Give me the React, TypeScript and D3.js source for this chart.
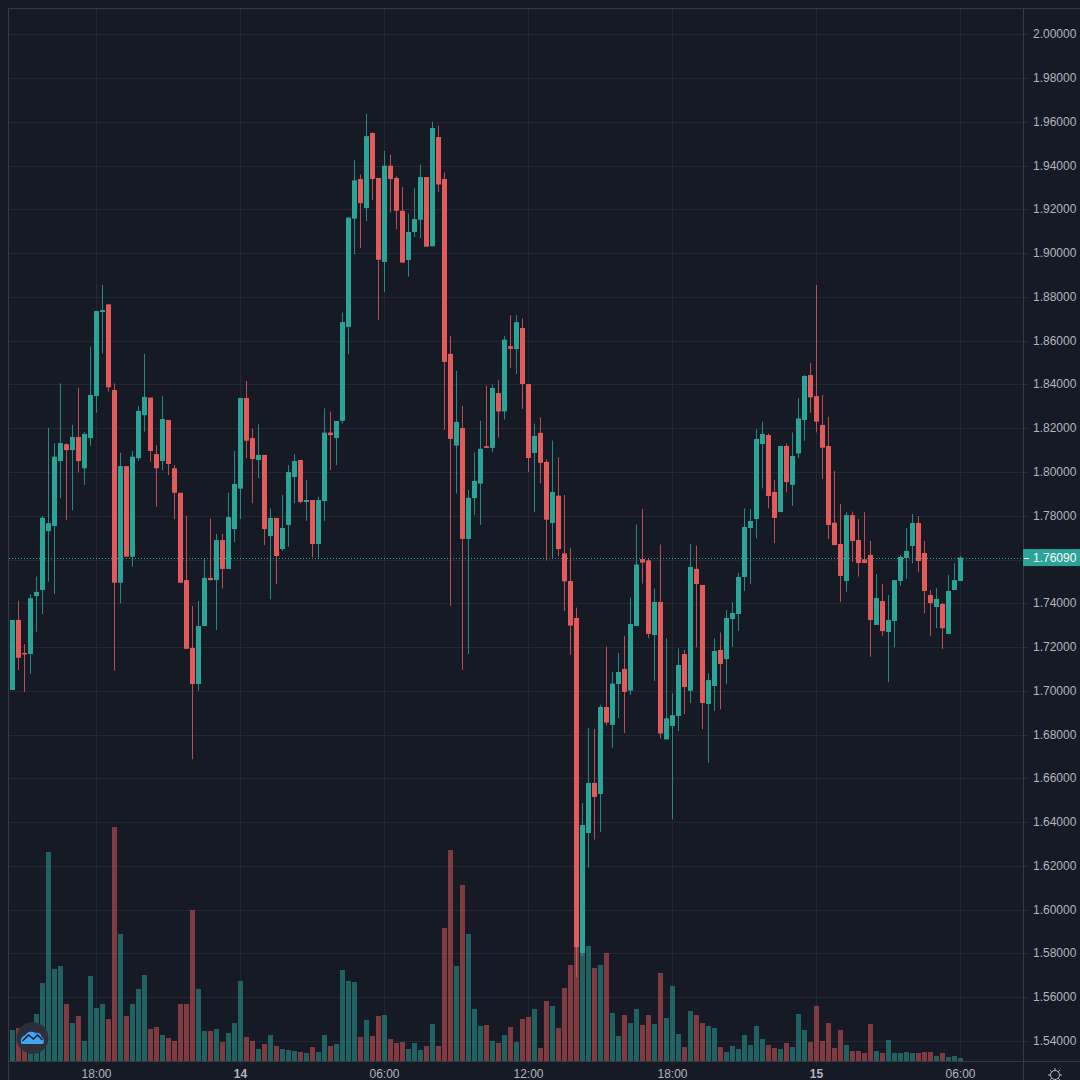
import React, { useRef, useEffect } from "react";
import * as d3 from "d3";

// 15 minute candles
const opens = [
  1.7004, 1.7324, 1.7173, 1.7168, 1.7433, 1.7461, 1.7730, 1.7753, 1.8050, 1.8127,
  1.8100, 1.8160, 1.8017, 1.8155, 1.8347, 1.8731, 1.8766, 1.8375, 1.7494, 1.8027,
  1.7613, 1.8063, 1.8260, 1.8340, 1.8082, 1.8050, 1.8238, 1.8017, 1.7905, 1.7506,
  1.7196, 1.7031, 1.7296, 1.7516, 1.7506, 1.7689, 1.7557, 1.7739, 1.7924, 1.8338,
  1.8155, 1.8055, 1.8078, 1.7707, 1.7790, 1.7648, 1.7758, 1.7977, 1.8055, 1.7863,
  1.7872, 1.7671, 1.7867, 1.8180, 1.8155, 1.8234, 1.8663, 1.9158, 1.9339, 1.9206,
  1.9550, 1.9344, 1.8960, 1.9400, 1.9344, 1.9194, 1.8969, 1.9097, 1.9153, 1.9348,
  1.9032, 1.9531, 1.9339, 1.8540, 1.8121, 1.8201, 1.7694, 1.7881, 1.7947, 1.8118,
  1.8110, 1.8361, 1.8277, 1.8575, 1.8562, 1.8658, 1.8402, 1.8087, 1.8179, 1.8046,
  1.7767, 1.7892, 1.7628, 1.7502, 1.7333, 1.5802, 1.6350, 1.6579, 1.6528, 1.6926,
  1.6844, 1.7031, 1.7100, 1.7001, 1.7296, 1.7602, 1.7596, 1.7255, 1.7406, 1.6778,
  1.6839, 1.6885, 1.7168, 1.7000, 1.7557, 1.7484, 1.6940, 1.7022, 1.7187, 1.7145,
  1.7328, 1.7351, 1.7520, 1.7744, 1.7785, 1.8128, 1.8169, 1.7909, 1.7817, 1.8119,
  1.7941, 1.8085, 1.8238, 1.8443, 1.8347, 1.8215, 1.8119, 1.7768, 1.7671, 1.7502,
  1.7803, 1.7689, 1.7601, 1.7621, 1.7301, 1.7410, 1.7269, 1.7319, 1.7502, 1.7607,
  1.7662, 1.7767, 1.7630, 1.7438, 1.7383, 1.7397, 1.7260, 1.7461, 1.7502,
];
const highs = [
  1.7324, 1.7412, 1.7214, 1.7442, 1.7522, 1.7800, 1.8202, 1.8132, 1.8405, 1.8131,
  1.8216, 1.8385, 1.8183, 1.8573, 1.8736, 1.8855, 1.8766, 1.8405, 1.8088, 1.8027,
  1.8096, 1.8302, 1.8539, 1.8340, 1.8123, 1.8347, 1.8238, 1.8032, 1.7905, 1.7799,
  1.7388, 1.7410, 1.7606, 1.7787, 1.7717, 1.7717, 1.7905, 1.8096, 1.8338, 1.8416,
  1.8198, 1.8218, 1.8078, 1.7834, 1.7790, 1.7895, 1.8032, 1.8082, 1.8055, 1.7963,
  1.7872, 1.7887, 1.8291, 1.8276, 1.8233, 1.8729, 1.9163, 1.9425, 1.9360, 1.9638,
  1.9550, 1.9344, 1.9467, 1.9450, 1.9352, 1.9302, 1.9181, 1.9298, 1.9405, 1.9348,
  1.9601, 1.9583, 1.9369, 1.8622, 1.8463, 1.8302, 1.7918, 1.8090, 1.8234, 1.8395,
  1.8400, 1.8419, 1.8622, 1.8717, 1.8717, 1.8702, 1.8402, 1.8221, 1.8250, 1.8058,
  1.8144, 1.8067, 1.7895, 1.7654, 1.7380, 1.6487, 1.6830, 1.6826, 1.6936, 1.7202,
  1.7086, 1.7173, 1.7250, 1.7426, 1.7760, 1.7832, 1.7607, 1.7467, 1.7669, 1.7240,
  1.6989, 1.7194, 1.7187, 1.7670, 1.7663, 1.7484, 1.7080, 1.7240, 1.7267, 1.7369,
  1.7405, 1.7540, 1.7834, 1.7831, 1.8196, 1.8230, 1.8177, 1.7963, 1.8119, 1.8131,
  1.8181, 1.8338, 1.8443, 1.8498, 1.8855, 1.8352, 1.8253, 1.8005, 1.7854, 1.7816,
  1.7819, 1.7785, 1.7816, 1.7685, 1.7534, 1.7488, 1.7438, 1.7506, 1.7621, 1.7743,
  1.7808, 1.7799, 1.7685, 1.7461, 1.7470, 1.7403, 1.7529, 1.7583, 1.7617,
];
const lows = [
  1.7004, 1.7095, 1.6995, 1.7077, 1.7270, 1.7351, 1.7499, 1.7442, 1.7880, 1.7781,
  1.7826, 1.7999, 1.7941, 1.8120, 1.8271, 1.8542, 1.8367, 1.7092, 1.7400, 1.7613,
  1.7567, 1.8050, 1.8184, 1.8047, 1.7841, 1.8009, 1.7986, 1.7784, 1.7494, 1.7192,
  1.6687, 1.7000, 1.7296, 1.7503, 1.7278, 1.7468, 1.7557, 1.7679, 1.7785, 1.8063,
  1.7857, 1.7971, 1.7666, 1.7418, 1.7488, 1.7639, 1.7659, 1.7857, 1.7857, 1.7777,
  1.7610, 1.7606, 1.7776, 1.8009, 1.8032, 1.8221, 1.8538, 1.8995, 1.9024, 1.9147,
  1.9243, 1.8696, 1.8823, 1.9186, 1.9110, 1.8957, 1.8893, 1.9074, 1.9069, 1.9030,
  1.9032, 1.9280, 1.8192, 1.7388, 1.7902, 1.7096, 1.7168, 1.7802, 1.7758, 1.8110,
  1.8090, 1.8158, 1.8240, 1.8475, 1.8448, 1.8288, 1.8000, 1.7817, 1.7948, 1.7596,
  1.7602, 1.7615, 1.7365, 1.7164, 1.5692, 1.5788, 1.6192, 1.6320, 1.6355, 1.6842,
  1.6740, 1.6876, 1.6807, 1.6981, 1.7296, 1.7490, 1.7241, 1.7045, 1.6782, 1.6778,
  1.6413, 1.6816, 1.6893, 1.6943, 1.7199, 1.6824, 1.6671, 1.6908, 1.6915, 1.7031,
  1.7202, 1.7273, 1.7456, 1.7488, 1.7697, 1.7925, 1.7834, 1.7674, 1.7817, 1.7907,
  1.7845, 1.8064, 1.8143, 1.8271, 1.8181, 1.7968, 1.7694, 1.7666, 1.7405, 1.7453,
  1.7590, 1.7522, 1.7584, 1.7156, 1.7301, 1.7250, 1.7039, 1.7199, 1.7479, 1.7511,
  1.7583, 1.7542, 1.7354, 1.7250, 1.7286, 1.7191, 1.7260, 1.7461, 1.7502,
];
const closes = [
  1.7324, 1.7151, 1.7168, 1.7423, 1.7452, 1.7791, 1.7766, 1.8070, 1.8132, 1.8100,
  1.8160, 1.8050, 1.8174, 1.8352, 1.8736, 1.8740, 1.8387, 1.7494, 1.8027, 1.7613,
  1.8070, 1.8279, 1.8343, 1.8096, 1.8017, 1.8242, 1.8037, 1.7905, 1.7494, 1.7192,
  1.7031, 1.7296, 1.7516, 1.7506, 1.7689, 1.7557, 1.7794, 1.7945, 1.8338, 1.8143,
  1.8059, 1.8078, 1.7739, 1.7790, 1.7616, 1.7744, 1.8000, 1.8050, 1.7863, 1.7872,
  1.7671, 1.7872, 1.8180, 1.8169, 1.8233, 1.8685, 1.9163, 1.9333, 1.9229, 1.9535,
  1.9339, 1.8970, 1.9400, 1.9339, 1.9194, 1.8957, 1.9097, 1.9156, 1.9348, 1.9030,
  1.9572, 1.9314, 1.8503, 1.8151, 1.8229, 1.7694, 1.7882, 1.7959, 1.8106, 1.8110,
  1.8384, 1.8277, 1.8605, 1.8563, 1.8685, 1.8402, 1.8064, 1.8165, 1.8042, 1.7782,
  1.7909, 1.7648, 1.7500, 1.7298, 1.5829, 1.6387, 1.6579, 1.6515, 1.6926, 1.6855,
  1.7033, 1.7086, 1.6995, 1.7305, 1.7577, 1.7586, 1.7260, 1.7406, 1.6805, 1.6874,
  1.6889, 1.7118, 1.7017, 1.7566, 1.7488, 1.6944, 1.7049, 1.7182, 1.7123, 1.7333,
  1.7356, 1.7520, 1.7749, 1.7776, 1.8151, 1.8174, 1.7890, 1.7790, 1.8119, 1.7954,
  1.8073, 1.8245, 1.8439, 1.8341, 1.8230, 1.8111, 1.7758, 1.7666, 1.7525, 1.7803,
  1.7685, 1.7584, 1.7584, 1.7324, 1.7424, 1.7273, 1.7324, 1.7506, 1.7612, 1.7639,
  1.7767, 1.7593, 1.7456, 1.7401, 1.7420, 1.7286, 1.7456, 1.7506, 1.7609,
];
const volumes = [
  31, 33, 29, 26, 47, 78, 209, 92, 95, 57,
  38, 45, 20, 85, 53, 57, 42, 234, 127, 45,
  57, 72, 86, 32, 34, 26, 23, 20, 57, 57,
  151, 72, 30, 30, 32, 19, 28, 38, 80, 24,
  20, 12, 17, 26, 15, 12, 11, 10, 9, 8,
  14, 9, 26, 15, 17, 91, 80, 79, 24, 41,
  25, 45, 46, 22, 18, 19, 12, 18, 11, 15,
  37, 15, 133, 211, 95, 176, 127, 52, 35, 36,
  20, 18, 26, 34, 19, 42, 44, 52, 13, 60,
  55, 33, 73, 96, 115, 116, 115, 93, 96, 108,
  48, 25, 46, 38, 52, 36, 46, 37, 88, 43,
  75, 27, 14, 50, 46, 38, 35, 33, 14, 9,
  15, 12, 26, 16, 35, 22, 16, 13, 12, 18,
  14, 47, 31, 19, 55, 20, 38, 13, 31, 16,
  10, 10, 8, 37, 10, 8, 21, 8, 8, 9,
  8, 8, 9, 9, 5, 8, 4, 5, 3,
];

const priceTicks = [
  2.0, 1.98, 1.96, 1.94, 1.92, 1.9, 1.88, 1.86, 1.84, 1.82, 1.8, 1.78,
  1.76, 1.74, 1.72, 1.7, 1.68, 1.66, 1.64, 1.62, 1.6, 1.58, 1.56, 1.54,
];
const timeTicks = [14, 38, 62, 86, 110, 134, 158]; // candle index of each label
const timeLabels = ["18:00", "14", "06:00", "12:00", "18:00", "15", "06:00"];
const lastPrice = 1.7609;

const BG = "#161a25";
const GRID = "#232732";
const BORDER = "#363a45";
const UP = "#2ba498";
const DOWN = "#e25a5a";
const TEXT = "#b2b5be";
const FONT = "'Liberation Sans', Arial, sans-serif";

export default function App() {
  const svgRef = useRef<SVGSVGElement>(null);

  useEffect(() => {
    document.body.style.margin = "0";
    document.body.style.background = BG;
    if (!svgRef.current) return;

    const svg = d3.select(svgRef.current);
    svg.selectAll("*").remove();

    const left = 8.5;
    const top = 8.5;
    const axisX = 1023.5;
    const axisY = 1061.5;

    const x = d3.scaleLinear().domain([0, 158]).range([12.5, 960.5]);
    const y = d3.scaleLinear().domain([1.54, 2.0]).range([1040.9, 34.4]);
    const v = d3.scaleLinear().domain([0, 234]).range([1061, 827]);

    svg.append("rect").attr("width", 1080).attr("height", 1080).attr("fill", BG);

    // Grid
    svg.append("g").selectAll("line").data(priceTicks).join("line")
      .attr("x1", left).attr("x2", axisX + 5)
      .attr("y1", d => Math.round(y(d)) + 0.5).attr("y2", d => Math.round(y(d)) + 0.5)
      .attr("stroke", GRID);
    svg.append("g").selectAll("line").data(timeTicks).join("line")
      .attr("x1", d => x(d)).attr("x2", d => x(d))
      .attr("y1", top).attr("y2", axisY + 4)
      .attr("stroke", GRID);

    // Volume
    svg.append("g").attr("opacity", 0.52).selectAll("rect").data(volumes).join("rect")
      .attr("x", (d, i) => x(i) - 2.5)
      .attr("y", d => v(d))
      .attr("width", 5)
      .attr("height", d => 1061 - v(d))
      .attr("fill", (d, i) => (closes[i] >= opens[i] ? UP : DOWN));

    // Last price line
    svg.append("line")
      .attr("x1", 9).attr("x2", axisX)
      .attr("y1", Math.round(y(lastPrice)) + 0.5).attr("y2", Math.round(y(lastPrice)) + 0.5)
      .attr("stroke", UP).attr("stroke-dasharray", "1 2");

    // Candles
    const candles = svg.append("g").selectAll("g").data(opens).join("g")
      .attr("fill", (d, i) => (closes[i] >= opens[i] ? UP : DOWN));
    candles.append("rect")
      .attr("x", (d, i) => x(i) - 0.5)
      .attr("y", (d, i) => y(highs[i]))
      .attr("width", 1)
      .attr("height", (d, i) => y(lows[i]) - y(highs[i]))
      .attr("opacity", 0.8);
    candles.append("rect")
      .attr("x", (d, i) => x(i) - 2.5)
      .attr("y", (d, i) => y(Math.max(opens[i], closes[i])))
      .attr("width", 5)
      .attr("height", (d, i) => Math.max(1.5, Math.abs(y(opens[i]) - y(closes[i]))));

    // Frame and axis lines
    svg.append("line").attr("x1", left).attr("x2", left).attr("y1", top).attr("y2", 1080).attr("stroke", BORDER);
    svg.append("line").attr("x1", left).attr("x2", 1080).attr("y1", top).attr("y2", top).attr("stroke", BORDER);
    svg.append("line").attr("x1", axisX).attr("x2", axisX).attr("y1", top).attr("y2", 1080).attr("stroke", BORDER);
    svg.append("line").attr("x1", left).attr("x2", 1080).attr("y1", axisY).attr("y2", axisY).attr("stroke", BORDER);

    // Price labels
    svg.append("g").selectAll("text").data(priceTicks).join("text")
      .attr("x", 1033)
      .attr("y", d => y(d) + 4)
      .attr("font-family", FONT).attr("font-size", 12).attr("fill", TEXT)
      .text(d => d.toFixed(5));

    // Time labels
    svg.append("g").selectAll("text").data(timeTicks).join("text")
      .attr("x", d => x(d))
      .attr("y", 1078)
      .attr("text-anchor", "middle")
      .attr("font-family", FONT).attr("font-size", 12)
      .attr("font-weight", (d, i) => (timeLabels[i].length === 2 ? "bold" : "normal"))
      .attr("fill", TEXT)
      .text((d, i) => timeLabels[i]);

    // Last price tag
    const tagY = y(lastPrice);
    svg.append("rect").attr("x", 1023).attr("y", tagY - 8.5).attr("width", 57).attr("height", 17).attr("fill", UP);
    svg.append("line").attr("x1", 1024).attr("x2", 1029).attr("y1", Math.round(tagY) + 0.5).attr("y2", Math.round(tagY) + 0.5).attr("stroke", "#ffffff");
    svg.append("text").attr("x", 1033).attr("y", tagY + 4)
      .attr("font-family", FONT).attr("font-size", 12).attr("fill", "#ffffff")
      .text(lastPrice.toFixed(5));

    // Settings gear, cut off by the page bottom
    const gear = svg.append("g").attr("transform", "translate(1055,1075)")
      .attr("fill", "none").attr("stroke", TEXT).attr("stroke-width", 1);
    gear.append("circle").attr("r", 4.5);
    d3.range(8).forEach(k => {
      const a = (k * Math.PI) / 4;
      gear.append("line")
        .attr("x1", 4.5 * Math.cos(a)).attr("y1", 4.5 * Math.sin(a))
        .attr("x2", 7 * Math.cos(a)).attr("y2", 7 * Math.sin(a));
    });

    // Logo badge
    const logo = svg.append("g").attr("transform", "translate(32.5,1038)");
    logo.append("circle").attr("r", 16).attr("fill", "#2c2f3a");
    logo.append("path")
      .attr("d", "M-11,6 C-13,1 -10,-2 -7,-3 C-5,-7 0,-7 3,-5 C6,-6 9,-4 9,-1 C12,0 12,5 10,6 Z")
      .attr("fill", "#42a5f5");
    logo.append("path")
      .attr("d", "M-10,3 L-4,-3 L1,1 L5,-3 L10,2")
      .attr("fill", "none").attr("stroke", "#1e2230").attr("stroke-width", 1.6);
  }, []);

  return <svg ref={svgRef} width={1080} height={1080} style={{ position: "fixed", left: 0, top: 0 }} />;
}
